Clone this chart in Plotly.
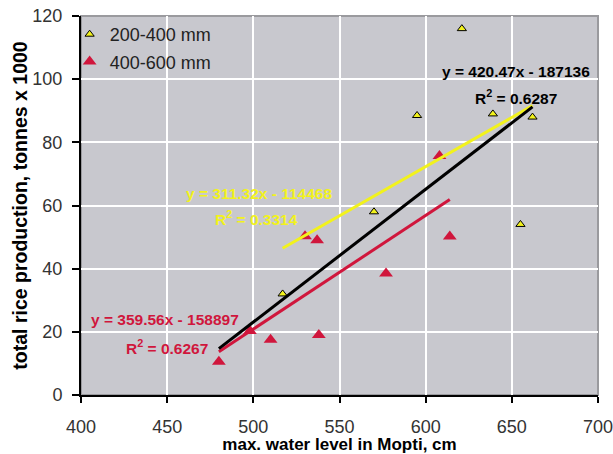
import numpy as np
import plotly.graph_objects as go

# Flood level in Mopti (cm) vs. total rice production (tonnes x 1000)
yellow_name = "200-400 mm"
yellow_x = [517, 570, 595, 621, 639, 662, 655]
yellow_y = [32, 58, 88.5, 116, 89, 88, 54]

red_name = "400-600 mm"
red_x = [480, 498, 510, 538, 530, 537, 577, 608, 614]
red_y = [10.5, 20.3, 17.5, 19, 50.3, 49, 38.5, 75.7, 50.2]

# Linear trend equations (y in tonnes): slope, intercept, R^2
yellow_fit = (311.32, -114468, 0.3314)
red_fit = (359.56, -158897, 0.6267)
all_fit = (420.47, -187136, 0.6287)

x_ticks = [400, 450, 500, 550, 600, 650, 700]
y_ticks = [0, 20, 40, 60, 80, 100, 120]

YELLOW = "#f2f21c"
RED = "#d0163c"
FONT = "Liberation Sans, Arial, sans-serif"


def trend(fit, xs):
    x = np.array([min(xs), max(xs)], dtype=float)
    return x, (fit[0] * x + fit[1]) / 1000.0


def eq_text(fit):
    return f"y = {fit[0]:.2f}x - {abs(fit[1]):.0f}", f"R<sup>2</sup> = {fit[2]:.4f}"


fig = go.Figure()

fig.add_trace(go.Scatter(
    x=yellow_x, y=yellow_y, mode="markers", name=yellow_name, legendgroup="a",
    marker=dict(symbol="triangle-up", size=8, color=YELLOW,
                line=dict(color="black", width=1)),
))
fig.add_trace(go.Scatter(
    x=red_x, y=red_y, mode="markers", name=red_name, legendgroup="b",
    marker=dict(symbol="triangle-up", size=12, color=RED, line=dict(width=0)),
))

for fit, xs, col in [(yellow_fit, yellow_x, YELLOW),
                     (red_fit, red_x, RED),
                     (all_fit, yellow_x + red_x, "black")]:
    tx, ty = trend(fit, xs)
    fig.add_trace(go.Scatter(x=tx, y=ty, mode="lines", showlegend=False,
                             hoverinfo="skip", line=dict(color=col, width=3)))

# Equation labels
labels = [
    (yellow_fit, YELLOW, 503, 63.7, 502, 56.0),
    (all_fit, "black", 652.5, 102.5, 652.5, 94.2),
    (red_fit, RED, 448.5, 23.9, 450, 15.3),
]
for fit, col, ex, ey, rx, ry in labels:
    t1, t2 = eq_text(fit)
    for txt, ax, ay in [(t1, ex, ey), (t2, rx, ry)]:
        fig.add_annotation(x=ax, y=ay, xref="x", yref="y", text=f"<b>{txt}</b>",
                           showarrow=False,
                           font=dict(family=FONT, size=15.5, color=col))

fig.update_layout(
    width=613, height=454,
    margin=dict(l=81, r=15, t=16, b=59),
    paper_bgcolor="white",
    plot_bgcolor="#c8c8ce",
    font=dict(family=FONT, size=18, color="#333333"),
    showlegend=True,
    legend=dict(x=-0.022, y=1.0, xanchor="left", yanchor="top",
                bgcolor="rgba(0,0,0,0)", font=dict(size=18, color="#222222"),
                tracegroupgap=1, traceorder="grouped"),
    shapes=[dict(type="rect", xref="paper", yref="paper", x0=0, x1=1, y0=0, y1=1,
                 line=dict(color="#9a9a9e", width=2), layer="below")],
)

fig.update_xaxes(
    range=[400, 700], tickvals=x_ticks, ticktext=[str(v) for v in x_ticks],
    showgrid=True, gridcolor="white", gridwidth=2,
    showline=True, linecolor="black", linewidth=2,
    ticks="outside", ticklen=6, tickwidth=1.5, tickcolor="black",
    ticklabelstandoff=8, ticklabeloverflow="allow",
    zeroline=False, automargin=False,
    title=dict(text="<b>max. water level in Mopti, cm</b>", standoff=14,
               font=dict(size=17, color="black")),
)
fig.update_yaxes(
    range=[0, 120], tickvals=y_ticks, ticktext=[str(v) for v in y_ticks],
    showgrid=True, gridcolor="white", gridwidth=2,
    showline=True, linecolor="black", linewidth=2,
    ticks="outside", ticklen=7, tickwidth=1.5, tickcolor="black",
    ticklabelstandoff=6, ticklabeloverflow="allow",
    zeroline=False, automargin=False,
    title=dict(text="<b>total rice production, tonnes x 1000</b>", standoff=0,
               font=dict(size=19.5, color="black")),
)

fig.write_html("out.html")
